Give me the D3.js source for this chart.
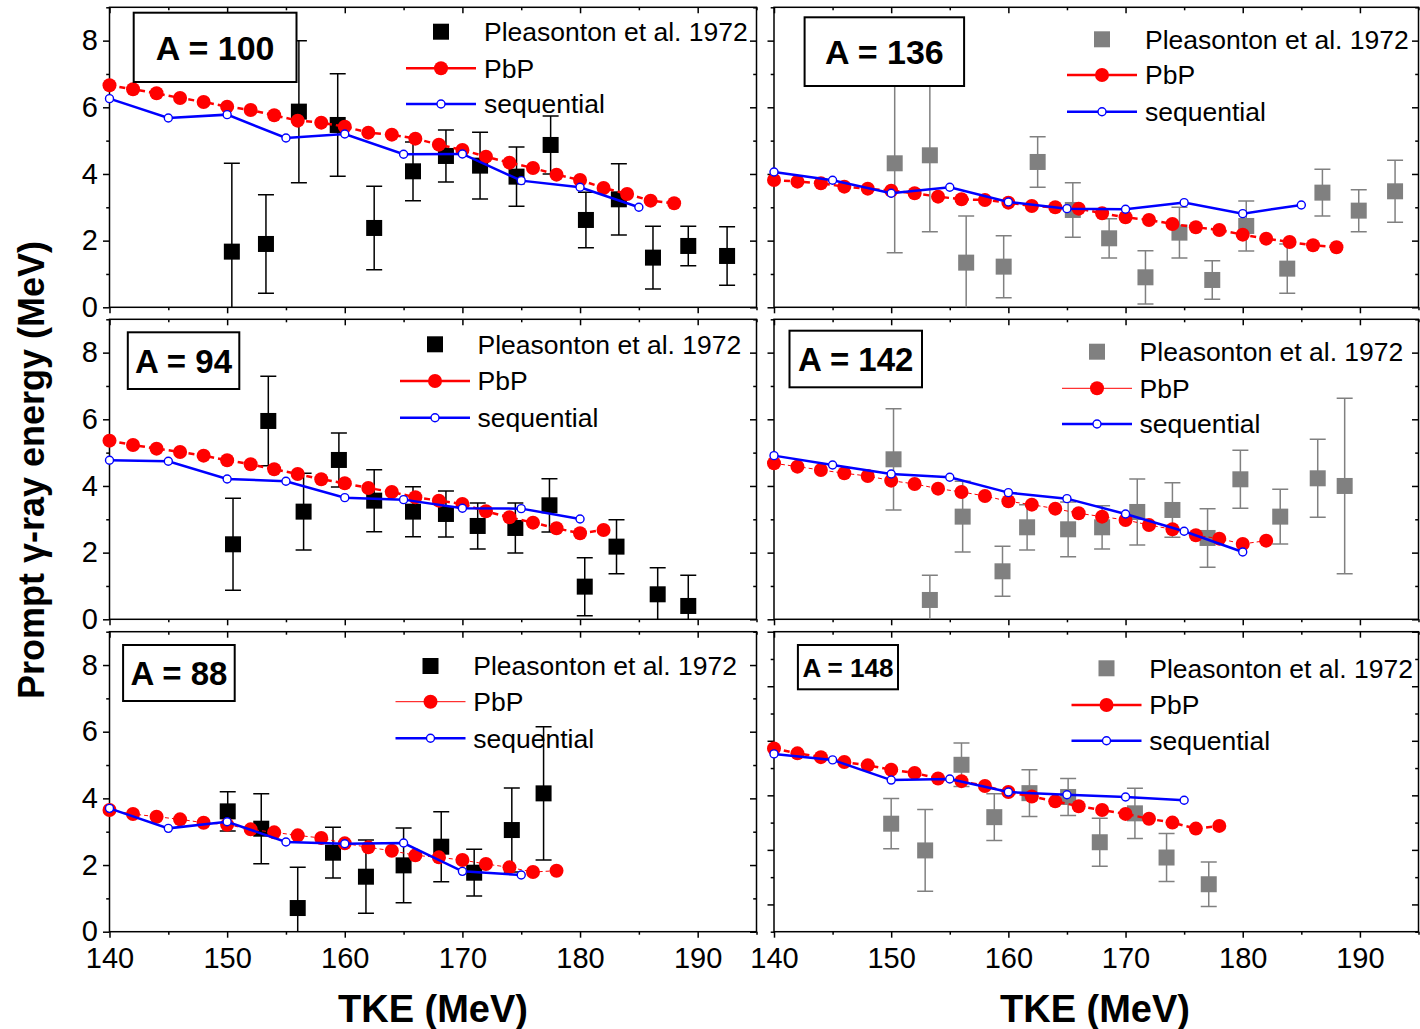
<!DOCTYPE html>
<html>
<head>
<meta charset="utf-8">
<script src="https://cdn.jsdelivr.net/npm/d3@7"></script>
<style>
    body { margin: 0; background: #fff; }
    svg { display: block; font-family: "Liberation Sans", Arial, Helvetica, sans-serif; }
</style>
</head>
<body>
<svg id="chart" width="1420" height="1029"></svg>
<script>
// TKE grids of the two calculations
const pbpTke = [140, 142, 144, 146, 148, 150, 152, 154, 156, 158, 160, 162, 164, 166, 168, 170, 172, 174, 176, 178, 180, 182, 184, 186, 188];
const seqTke = [140, 145, 150, 155, 160, 165, 170, 175, 180, 185];

// A = 100
const a100ExpTke = [150.4, 153.3, 156.1, 159.4, 162.5, 165.8, 168.6, 171.5, 174.6, 177.5, 180.5, 183.3, 186.2, 189.2, 192.5];
const a100ExpE = [1.67, 1.90, 5.87, 5.47, 2.38, 4.08, 4.54, 4.25, 3.92, 4.87, 2.62, 3.24, 1.49, 1.84, 1.54];
const a100ExpErr = [2.65, 1.48, 2.13, 1.54, 1.25, 0.88, 0.78, 1.00, 0.89, 0.87, 0.83, 1.07, 0.94, 0.59, 0.88];
const a100PbP = [6.66, 6.54, 6.42, 6.28, 6.16, 6.02, 5.92, 5.76, 5.60, 5.54, 5.42, 5.24, 5.18, 5.06, 4.88, 4.72, 4.52, 4.34, 4.18, 3.98, 3.82, 3.58, 3.40, 3.20, 3.12];
const a100Seq = [6.26, 5.68, 5.78, 5.08, 5.20, 4.59, 4.60, 3.80, 3.60, 3.00];

// A = 136
const a136ExpTke = [150.3, 153.3, 156.4, 159.6, 162.5, 165.5, 168.6, 171.7, 174.6, 177.4, 180.3, 183.8, 186.8, 189.9, 193.0];
const a136ExpE = [4.32, 4.56, 1.34, 1.22, 4.36, 2.92, 2.07, 0.90, 2.24, 0.82, 2.44, 1.16, 3.44, 2.90, 3.48];
const a136ExpErr = [2.68, 2.29, 1.40, 0.93, 0.76, 0.82, 0.59, 0.80, 0.76, 0.58, 0.75, 0.74, 0.70, 0.63, 0.93];
const a136PbP = [3.82, 3.77, 3.72, 3.62, 3.56, 3.50, 3.42, 3.32, 3.24, 3.22, 3.14, 3.04, 3.00, 2.96, 2.82, 2.70, 2.62, 2.50, 2.40, 2.32, 2.18, 2.06, 1.96, 1.86, 1.80];
const a136Seq = [4.06, 3.81, 3.42, 3.60, 3.16, 2.96, 2.94, 3.14, 2.81, 3.07];

// A = 94
const a94ExpTke = [150.5, 153.5, 156.5, 159.5, 162.5, 165.8, 168.6, 171.3, 174.5, 177.4, 180.4, 183.1, 186.6, 189.2];
const a94ExpE = [2.25, 5.95, 3.23, 4.78, 3.56, 3.23, 3.16, 2.80, 2.74, 3.42, 0.98, 2.18, 0.75, 0.40];
const a94ExpErr = [1.38, 1.34, 1.15, 0.81, 0.93, 0.75, 0.69, 0.69, 0.75, 0.80, 0.87, 0.81, 0.80, 0.92];
const a94PbP = [5.36, 5.23, 5.12, 5.02, 4.91, 4.77, 4.65, 4.50, 4.36, 4.20, 4.08, 3.94, 3.82, 3.66, 3.56, 3.46, 3.24, 3.06, 2.90, 2.73, 2.58, 2.68];
const a94Seq = [4.77, 4.74, 4.21, 4.14, 3.65, 3.59, 3.33, 3.32, 3.01];

// A = 142
const a142ExpTke = [150.2, 153.3, 156.1, 159.5, 161.6, 165.1, 168.0, 171.0, 174.0, 177.0, 179.8, 183.2, 186.4, 188.7];
const a142ExpE = [4.80, 0.58, 3.08, 1.44, 2.76, 2.70, 2.76, 3.22, 3.28, 2.44, 4.20, 3.08, 4.23, 4.00];
const a142ExpErr = [1.52, 0.74, 1.06, 0.75, 0.68, 0.82, 0.65, 0.99, 0.82, 0.88, 0.87, 0.82, 1.17, 2.63];
const a142PbP = [4.68, 4.58, 4.48, 4.38, 4.30, 4.16, 4.06, 3.92, 3.82, 3.70, 3.54, 3.44, 3.32, 3.18, 3.08, 2.98, 2.83, 2.70, 2.52, 2.42, 2.26, 2.36];
const a142Seq = [4.91, 4.63, 4.36, 4.26, 3.80, 3.62, 3.16, 2.64, 2.02];

// A = 88
const a88ExpTke = [150.05, 152.9, 156.0, 159.0, 161.8, 165.0, 168.2, 171.0, 174.2, 176.9];
const a88ExpE = [3.61, 3.09, 0.71, 2.37, 1.65, 1.99, 2.55, 1.77, 3.05, 4.15];
const a88ExpErr = [0.59, 1.05, 1.22, 0.76, 1.10, 1.12, 1.05, 0.70, 1.26, 2.00];
const a88PbP = [3.65, 3.53, 3.45, 3.37, 3.27, 3.21, 3.07, 2.98, 2.89, 2.81, 2.65, 2.53, 2.43, 2.29, 2.23, 2.15, 2.03, 1.93, 1.79, 1.83];
const a88Seq = [3.70, 3.10, 3.30, 2.69, 2.64, 2.66, 1.81, 1.70];

// A = 148 (this layer has its own y scale)
const a148ExpTke = [150.0, 152.9, 156.0, 158.8, 161.8, 165.1, 167.8, 170.8, 173.5, 177.1];
const a148ExpE = [1.48, 0.99, 2.56, 1.60, 2.04, 1.97, 1.14, 1.67, 0.86, 0.37];
const a148ExpErr = [0.46, 0.75, 0.40, 0.43, 0.43, 0.34, 0.44, 0.46, 0.44, 0.41];
const a148PbP = [2.86, 2.77, 2.70, 2.61, 2.55, 2.47, 2.41, 2.31, 2.26, 2.17, 2.06, 1.98, 1.89, 1.80, 1.73, 1.66, 1.57, 1.50, 1.39, 1.44];
const a148Seq = [2.76, 2.65, 2.28, 2.30, 2.06, 2.01, 1.97, 1.91];

// axis ticks
const xMajor = [140, 150, 160, 170, 180, 190];
const xMinor = [145, 155, 165, 175, 185, 195];
const yMajor = [0, 2, 4, 6, 8];
const yMinor = [1, 3, 5, 7, 9];
const yMajor148 = [0, 1, 2, 3, 4, 5];
const yMinor148 = [-0.5, 0.5, 1.5, 2.5, 3.5, 4.5];

const legendLabels = ["Pleasonton et al. 1972", "PbP", "sequential"];

// frame of each column / row
const colX = [[109.5, 756.5], [774, 1418.5]];
const rowY = [[7.3, 307.3], [319.3, 619.3], [631.7, 931.7]];

const panels = [
    { name: "A = 100", col: 0, row: 0, tke: a100ExpTke, e: a100ExpE, err: a100ExpErr, pbp: a100PbP, seq: a100Seq,
      expColor: "#000", thin: false, yDomain: [0, 9], yMaj: yMajor, yMin: yMinor,
      box: [133.7, 12.7, 162.8, 69.3], boxFont: 34, leg: { mx: 441, tx: 484, ys: [31.7, 68.3, 104] } },
    { name: "A = 136", col: 1, row: 0, tke: a136ExpTke, e: a136ExpE, err: a136ExpErr, pbp: a136PbP, seq: a136Seq,
      expColor: "#808080", thin: false, yDomain: [0, 9], yMaj: yMajor, yMin: yMinor,
      box: [804.6, 17.3, 159.5, 68.7], boxFont: 34, leg: { mx: 1102, tx: 1145, ys: [39.3, 75, 111.7] } },
    { name: "A = 94", col: 0, row: 1, tke: a94ExpTke, e: a94ExpE, err: a94ExpErr, pbp: a94PbP, seq: a94Seq,
      expColor: "#000", thin: false, yDomain: [0, 9], yMaj: yMajor, yMin: yMinor,
      box: [127.8, 332.3, 111.5, 56.7], boxFont: 33, leg: { mx: 435, tx: 477.5, ys: [344.3, 381, 417.7] } },
    { name: "A = 142", col: 1, row: 1, tke: a142ExpTke, e: a142ExpE, err: a142ExpErr, pbp: a142PbP, seq: a142Seq,
      expColor: "#808080", thin: true, yDomain: [0, 9], yMaj: yMajor, yMin: yMinor,
      box: [789.5, 330.7, 132.5, 56.6], boxFont: 33, leg: { mx: 1097, tx: 1139.6, ys: [351.7, 388.3, 424] } },
    { name: "A = 88", col: 0, row: 2, tke: a88ExpTke, e: a88ExpE, err: a88ExpErr, pbp: a88PbP, seq: a88Seq,
      expColor: "#000", thin: true, yDomain: [0, 9], yMaj: yMajor, yMin: yMinor,
      box: [123.1, 645, 111.6, 56], boxFont: 33, leg: { mx: 430.5, tx: 473.3, ys: [666, 701.7, 738.3] } },
    { name: "A = 148", col: 1, row: 2, tke: a148ExpTke, e: a148ExpE, err: a148ExpErr, pbp: a148PbP, seq: a148Seq,
      expColor: "#808080", thin: false, yDomain: [-0.5, 5], yMaj: yMajor148, yMin: yMinor148,
      box: [797.9, 645, 100.1, 44.3], boxFont: 26, leg: { mx: 1106.5, tx: 1149.3, ys: [668.3, 705, 740.7] } }
];

const svg = d3.select("#chart");

function addAxis(g, axis, scale, values, size, transform, labels, fontSize, padding) {
    const ax = axis(scale).tickValues(values).tickSize(size).tickSizeOuter(0).tickPadding(padding || 3);
    if (!labels) ax.tickFormat("");
    else ax.tickFormat(d3.format("d"));
    const a = g.append("g").attr("transform", transform).call(ax);
    a.select(".domain").remove();
    a.selectAll("line").attr("stroke", "#000").attr("stroke-width", 1.5);
    a.selectAll("text").attr("fill", "#000").style("font-size", fontSize + "px")
        .style("font-family", "'Liberation Sans', Arial, sans-serif");
}

panels.forEach((p, i) => {
    const [x0, x1] = colX[p.col];
    const [top, bottom] = rowY[p.row];
    const x = d3.scaleLinear().domain([140, 195]).range([x0, x1]);
    const y = d3.scaleLinear().domain(p.yDomain).range([bottom, top]);
    const g = svg.append("g");

    g.append("clipPath").attr("id", "clip" + i)
        .append("rect").attr("x", x0).attr("y", top).attr("width", x1 - x0).attr("height", bottom - top);

    // ticks: bottom out, top in, left out, right in
    const lastRow = p.row === 2;
    addAxis(g, d3.axisBottom, x, xMajor, 6, `translate(0,${bottom})`, lastRow, 29, 10);
    addAxis(g, d3.axisBottom, x, xMinor, 3, `translate(0,${bottom})`, false);
    addAxis(g, d3.axisBottom, x, xMajor, 6, `translate(0,${top})`, false);
    addAxis(g, d3.axisBottom, x, xMinor, 3, `translate(0,${top})`, false);
    addAxis(g, d3.axisLeft, y, p.yMaj, 6.5, `translate(${x0},0)`, p.col === 0, 29, 5);
    addAxis(g, d3.axisLeft, y, p.yMin, 3.3, `translate(${x0},0)`, false);
    addAxis(g, d3.axisLeft, y, p.yMaj, 6.5, `translate(${x1},0)`, false);
    addAxis(g, d3.axisLeft, y, p.yMin, 3.3, `translate(${x1},0)`, false);

    g.append("rect")
        .attr("x", x0).attr("y", top).attr("width", x1 - x0).attr("height", bottom - top)
        .attr("fill", "none").attr("stroke", "#000").attr("stroke-width", 1.5);

    // experimental points with error bars
    const exp = p.tke.map((t, k) => ({ t: t, e: p.e[k], err: p.err[k] }));
    const bars = g.append("g").attr("clip-path", `url(#clip${i})`)
        .attr("stroke", p.expColor).attr("stroke-width", 1.5);
    exp.forEach(d => {
        const lo = y(d.e - d.err), hi = y(d.e + d.err), cx = x(d.t);
        bars.append("line").attr("x1", cx).attr("x2", cx).attr("y1", lo).attr("y2", hi);
        bars.append("line").attr("x1", cx - 8).attr("x2", cx + 8).attr("y1", lo).attr("y2", lo);
        bars.append("line").attr("x1", cx - 8).attr("x2", cx + 8).attr("y1", hi).attr("y2", hi);
    });
    g.selectAll(".sq").data(exp).enter().append("rect")
        .attr("x", d => x(d.t) - 8).attr("y", d => y(d.e) - 8)
        .attr("width", 16).attr("height", 16).attr("fill", p.expColor);

    // PbP
    const pbp = p.pbp.map((v, k) => [pbpTke[k], v]);
    g.append("path").datum(pbp)
        .attr("d", d3.line().x(d => x(d[0])).y(d => y(d[1])))
        .attr("fill", "none").attr("stroke", "#ff0000")
        .attr("stroke-width", p.thin ? 1 : 2.5).attr("stroke-dasharray", p.thin ? "4,3" : "6,4");
    g.selectAll(".pbp").data(pbp).enter().append("circle")
        .attr("cx", d => x(d[0])).attr("cy", d => y(d[1])).attr("r", 7).attr("fill", "#ff0000");

    // sequential
    const seq = p.seq.map((v, k) => [seqTke[k], v]);
    g.append("path").datum(seq)
        .attr("d", d3.line().x(d => x(d[0])).y(d => y(d[1])))
        .attr("fill", "none").attr("stroke", "#0000ff").attr("stroke-width", 2.5);
    g.selectAll(".seq").data(seq).enter().append("circle")
        .attr("cx", d => x(d[0])).attr("cy", d => y(d[1])).attr("r", 4)
        .attr("fill", "#fff").attr("stroke", "#0000ff").attr("stroke-width", 1.4);

    // A label box
    const [bx, by, bw, bh] = p.box;
    g.append("rect").attr("x", bx).attr("y", by).attr("width", bw).attr("height", bh)
        .attr("fill", "#fff").attr("stroke", "#000").attr("stroke-width", 2);
    g.append("text").attr("x", bx + bw / 2).attr("y", by + bh / 2).attr("dy", "0.36em")
        .attr("text-anchor", "middle").style("font-size", p.boxFont + "px").style("font-weight", "bold")
        .text(p.name);

    // legend
    const L = p.leg;
    g.append("rect").attr("x", L.mx - 8).attr("y", L.ys[0] - 8).attr("width", 16).attr("height", 16)
        .attr("fill", p.expColor);
    g.append("line").attr("x1", L.mx - 35).attr("x2", L.mx + 35).attr("y1", L.ys[1]).attr("y2", L.ys[1])
        .attr("stroke", "#ff0000").attr("stroke-width", p.thin ? 1 : 2.5);
    g.append("circle").attr("cx", L.mx).attr("cy", L.ys[1]).attr("r", 7).attr("fill", "#ff0000");
    g.append("line").attr("x1", L.mx - 35).attr("x2", L.mx + 35).attr("y1", L.ys[2]).attr("y2", L.ys[2])
        .attr("stroke", "#0000ff").attr("stroke-width", 2.5);
    g.append("circle").attr("cx", L.mx).attr("cy", L.ys[2]).attr("r", 4)
        .attr("fill", "#fff").attr("stroke", "#0000ff").attr("stroke-width", 1.4);
    legendLabels.forEach((t, k) => {
        g.append("text").attr("x", L.tx).attr("y", L.ys[k]).attr("dy", "0.35em")
            .style("font-size", "26.5px").text(t);
    });
});

// axis titles
svg.append("text").attr("transform", "translate(44,470) rotate(-90)")
    .attr("text-anchor", "middle").style("font-size", "36px").style("font-weight", "bold")
    .text("Prompt γ-ray energy (MeV)");
[433, 1095].forEach(cx => {
    svg.append("text").attr("x", cx).attr("y", 1022).attr("text-anchor", "middle")
        .style("font-size", "38px").style("font-weight", "bold").text("TKE (MeV)");
});
</script>
</body>
</html>
